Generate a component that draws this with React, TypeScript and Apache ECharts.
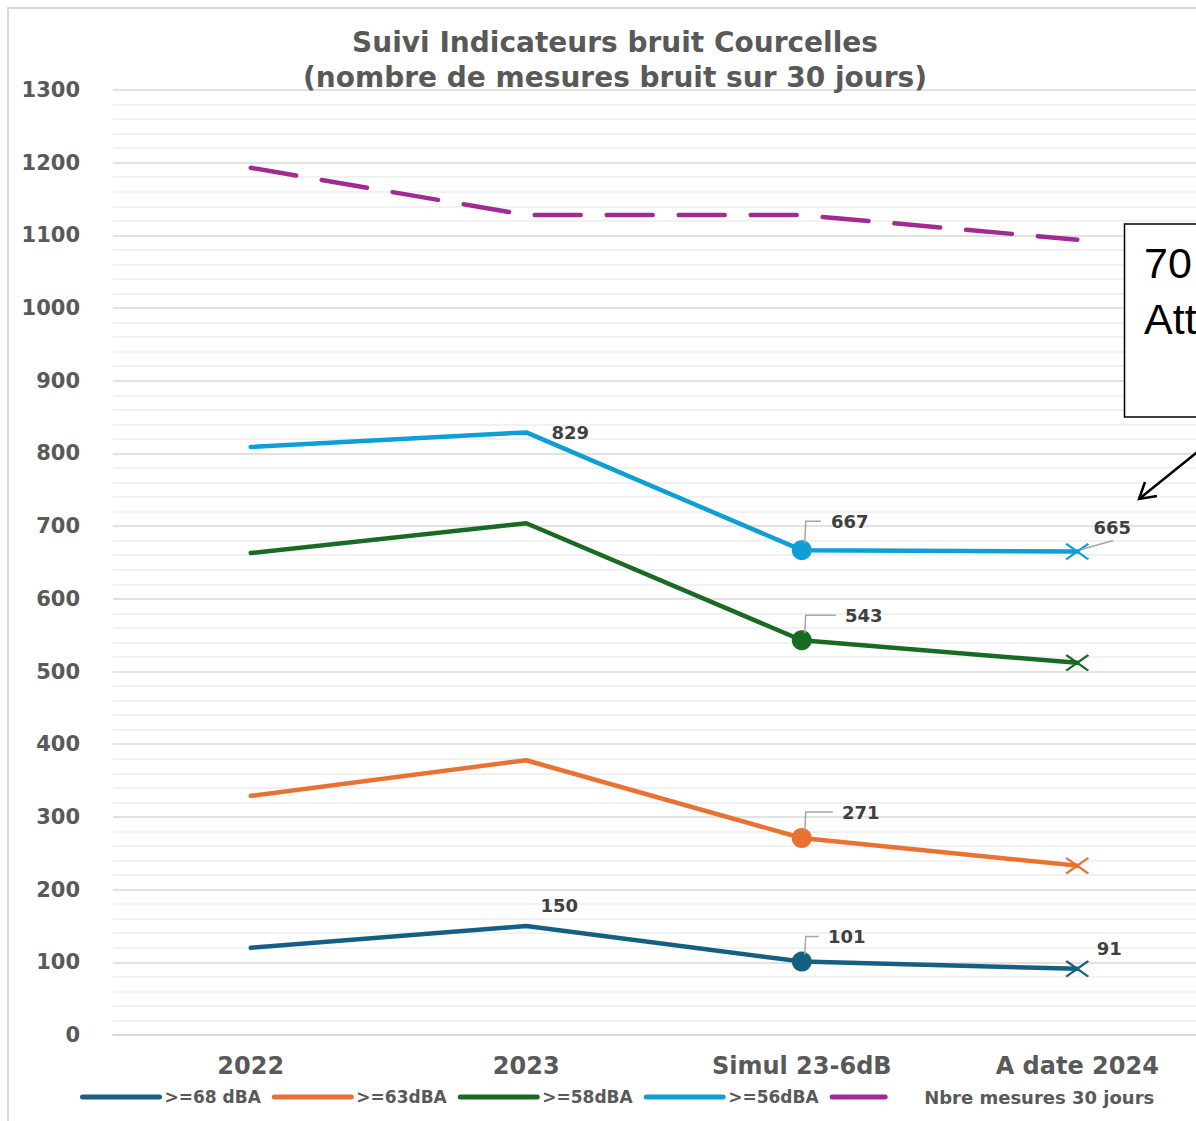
import React, { useEffect, useRef } from "react";
import * as echarts from "echarts";

// ---- Data ----
const CATEGORIES = ["2022", "2023", "Simul 23-6dB", "A date 2024"];
const S68 = [120, 150, 101, 91];
const S63 = [329, 378, 271, 233];
const S58 = [663, 704, 543, 512];
const S56 = [809, 829, 667, 665];
const NBRE = [1193, 1128, 1128, 1094];
const SERIES_NAMES = [">=68 dBA", ">=63dBA", ">=58dBA", ">=56dBA", "Nbre mesures 30 jours"];
const Y_MIN = 0;
const Y_MAX = 1300;
const Y_INTERVAL = 100;
const TITLE_TEXT = "Suivi Indicateurs bruit Courcelles\n(nombre de mesures bruit sur 30 jours)";
const BOX_LINES = ["70", "Att"];

// ---- Styles ----
const COLORS = ["#156082", "#e97132", "#196b24", "#0f9ed5", "#a02b93"];
const FONT = '"DejaVu Sans", Verdana, sans-serif';
const X_PATH = "path://M0,1.6L1.6,0L20,18.4L18.4,20Z M18.4,0L20,1.6L1.6,20L0,18.4Z";

// label offsets (text center relative to the point), per series: index -> [dx, dy]
const LABEL_OFFSETS: Record<number, [number, number]>[] = [
  { 1: [33, -20], 2: [45, -25], 3: [32, -20] },
  { 2: [59, -26] },
  { 2: [62, -25] },
  { 1: [44, 0], 2: [48, -29], 3: [35, -24] },
];
// leader lines: series index, point index, offsets relative to point
const LEADERS: { s: number; i: number; pts: [number, number][] }[] = [
  { s: 0, i: 2, pts: [[3, -7], [4, -25], [17, -25]] },
  { s: 1, i: 2, pts: [[3, -7], [4, -26], [31, -26]] },
  { s: 2, i: 2, pts: [[3, -7], [4, -25], [34, -25]] },
  { s: 3, i: 2, pts: [[3, -7], [4, -29], [19, -29]] },
  { s: 3, i: 3, pts: [[4, -2], [36, -11]] },
];

const VALUES = [S68, S63, S58, S56];

function buildData(vals: number[], sIdx: number) {
  return vals.map((v, i) => {
    const off = LABEL_OFFSETS[sIdx][i];
    let symbol = "circle";
    let symbolSize: any = 2;
    if (i === 2) {
      symbolSize = 20;
    } else if (i === 3) {
      symbol = X_PATH;
      symbolSize = [24, 17];
    }
    const item: any = { value: v, symbol, symbolSize };
    if (off) {
      item.label = {
        show: true,
        position: "inside",
        offset: off,
        color: "#404040",
        fontFamily: FONT,
        fontWeight: "bold",
        fontSize: 18,
        formatter: "{c}",
      };
    }
    return item;
  });
}

export default function App() {
  const ref = useRef<HTMLDivElement>(null);
  useEffect(() => {
    if (!ref.current) return;
    const chart = echarts.init(ref.current, undefined, { renderer: "svg" });
    const lineSeries: any[] = VALUES.map((vals, s) => ({
      name: SERIES_NAMES[s],
      type: "line",
      data: buildData(vals, s),
      showSymbol: true,
      showAllSymbol: true,
      color: COLORS[s],
      itemStyle: { color: COLORS[s] },
      lineStyle: { color: COLORS[s], width: 4.5, cap: "round", join: "round" },
      label: { show: false },
      emphasis: { disabled: true },
      z: 3,
    }));
    lineSeries.push({
      name: SERIES_NAMES[4],
      type: "line",
      data: NBRE,
      symbol: "none",
      color: COLORS[4],
      itemStyle: { color: COLORS[4] },
      lineStyle: { color: COLORS[4], width: 4.5, type: [46, 26], cap: "round" },
      emphasis: { disabled: true },
      z: 3,
    });
    lineSeries.push({
      type: "custom",
      name: "leaders",
      data: LEADERS.map((l) => [l.i, VALUES[l.s][l.i]]),
      z: 5,
      silent: true,
      renderItem: (params: any, api: any) => {
        const p = api.coord([api.value(0), api.value(1)]);
        const l = LEADERS[params.dataIndex];
        return {
          type: "polyline",
          shape: { points: l.pts.map(([dx, dy]) => [p[0] + dx, p[1] + dy]) },
          style: { stroke: "#a6a6a6", lineWidth: 1.5, fill: "none" },
        };
      },
    });

    const legendData: any[] = SERIES_NAMES.map((n, i) =>
      i === 4
        ? {
            name: n,
            lineStyle: { type: [53, 40], width: 5, cap: "round" },
            textStyle: { fontSize: 18, padding: [0, 0, 0, 10] },
          }
        : { name: n }
    );

    chart.setOption({
      animation: false,
      backgroundColor: "#ffffff",
      title: {
        text: TITLE_TEXT,
        left: 610,
        top: 20,
        textAlign: "center",
        textStyle: {
          fontFamily: FONT,
          fontWeight: "bold",
          fontSize: 28,
          lineHeight: 35,
          color: "#595959",
        },
      },
      grid: { left: 113, right: 35, top: 90, bottom: 86, containLabel: false },
      legend: {
        data: legendData,
        left: 80,
        top: 1088,
        padding: 0,
        itemWidth: 77,
        itemHeight: 5,
        itemGap: 11,
        itemStyle: { opacity: 0 },
        lineStyle: { width: 5, cap: "round" },
        textStyle: { fontFamily: FONT, fontWeight: "bold", fontSize: 17, color: "#595959" },
      },
      xAxis: {
        type: "category",
        data: CATEGORIES,
        boundaryGap: true,
        axisLine: { show: true, lineStyle: { color: "#d9d9d9", width: 1.5 } },
        axisTick: { show: false },
        axisLabel: {
          fontFamily: FONT,
          fontWeight: "bold",
          fontSize: 24,
          color: "#595959",
          margin: 19,
        },
      },
      yAxis: {
        type: "value",
        min: Y_MIN,
        max: Y_MAX,
        interval: Y_INTERVAL,
        axisLine: { show: false },
        axisTick: { show: false },
        axisLabel: {
          fontFamily: FONT,
          fontWeight: "bold",
          fontSize: 21,
          color: "#595959",
          margin: 33,
          formatter: (v: number) => String(v),
        },
        splitLine: { show: true, lineStyle: { color: "#d9d9d9", width: 1.5 } },
        minorTick: { show: false, splitNumber: 5 },
        minorSplitLine: { show: true, lineStyle: { color: "#ececec", width: 1.5 } },
      },
      graphic: [
        {
          type: "rect",
          shape: { x: 8, y: 8, width: 1400, height: 1300 },
          style: { fill: "none", stroke: "#d9d9d9", lineWidth: 2 },
          z: -10,
          silent: true,
        },
        {
          type: "rect",
          shape: { x: 1124.5, y: 224, width: 200, height: 193 },
          style: { fill: "#ffffff", stroke: "#000000", lineWidth: 1.5 },
          z: 20,
        },
        {
          type: "text",
          x: 1144,
          y: 263,
          style: {
            text: BOX_LINES[0],
            font: '43px "Liberation Sans", Arial, sans-serif',
            fill: "#000000",
            textVerticalAlign: "middle",
          },
          z: 21,
        },
        {
          type: "text",
          x: 1144,
          y: 319,
          style: {
            text: BOX_LINES[1],
            font: '43px "Liberation Sans", Arial, sans-serif',
            fill: "#000000",
            textVerticalAlign: "middle",
          },
          z: 21,
        },
        {
          type: "line",
          shape: { x1: 1200, y1: 450, x2: 1139, y2: 499 },
          style: { stroke: "#000000", lineWidth: 2.5 },
          z: 20,
        },
        {
          type: "polyline",
          shape: { points: [[1157, 496], [1139, 499], [1145, 482]] },
          style: { stroke: "#000000", lineWidth: 2.5, fill: "none" },
          z: 20,
        },
      ],
      series: lineSeries,
    });
    return () => chart.dispose();
  }, []);

  return (
    <div
      style={{
        position: "fixed",
        left: 0,
        top: 0,
        width: 1196,
        height: 1121,
        overflow: "hidden",
        background: "#ffffff",
      }}
    >
      <div ref={ref} style={{ position: "absolute", left: 0, top: 0, width: 1250, height: 1121 }} />
    </div>
  );
}
